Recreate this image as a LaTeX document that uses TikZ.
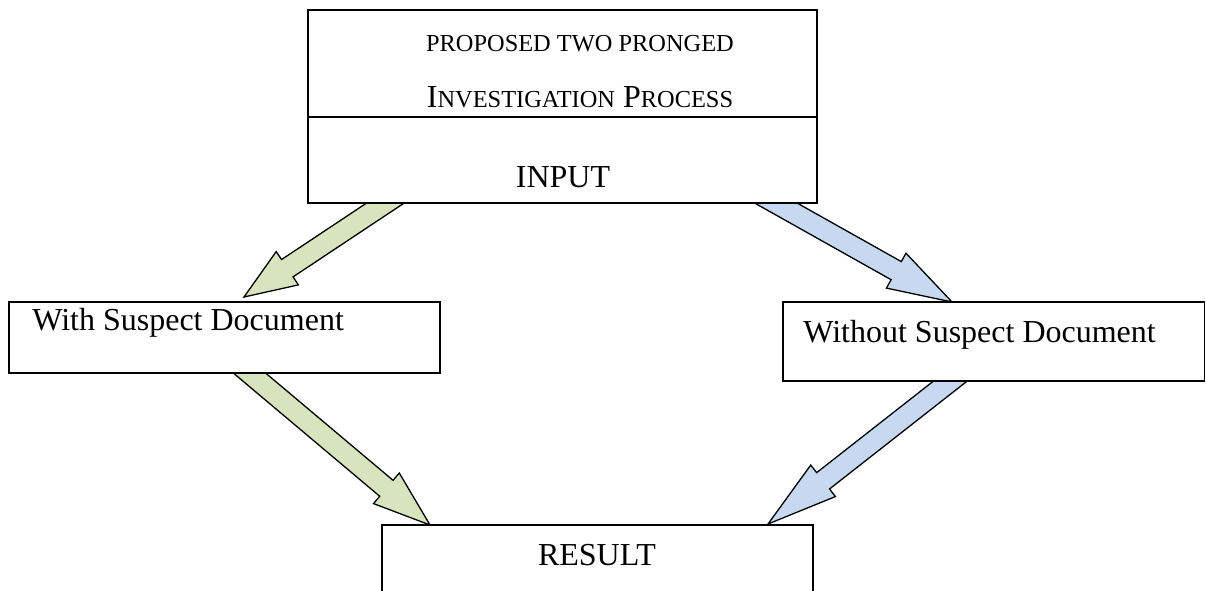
\documentclass[tikz,border=0pt]{standalone}
\usepackage{fontspec}
\setmainfont{Liberation Serif}
\usetikzlibrary{calc,fit}
\definecolor{agreen}{HTML}{D7E4BD}
\definecolor{ablue}{HTML}{C6D9F1}
\newcommand\sml[1]{{\fontsize{12.2pt}{14pt}\selectfont #1}}
\tikzset{
  box/.style={draw, line width=0.8pt, fill=white, inner sep=0pt},
  fat/.style={draw, line width=0.65pt, line join=miter},
  lbl/.style={inner sep=0pt, font=\fontsize{16pt}{19pt}\selectfont},
}
\newcommand\fatarrow[4]{%
  \coordinate (hb) at ($(#2)!#4!(#1)$);
  \draw[fat, fill=#3]
    ($(#1)!5.2pt!90:(#2)$) -- ($(hb)!5.2pt!90:(#2)$) -- ($(hb)!10pt!90:(#2)$)
    -- (#2) -- ($(hb)!10pt!-90:(#2)$) -- ($(hb)!5.2pt!-90:(#2)$)
    -- ($(#1)!5.2pt!-90:(#2)$) -- cycle;
}
\begin{document}
\begin{tikzpicture}[x=0.5pt, y=-0.5pt]
\clip (0,0) rectangle (1206,590);
\fill[white] (0,0) rectangle (1206,590);
% arrow end points
\coordinate (g1s) at (402,192);
\coordinate (g1e) at (244,297);
\coordinate (b1s) at (758,193);
\coordinate (b1e) at (952,302);
\coordinate (g2s) at (234,360);
\coordinate (g2e) at (430,525);
\coordinate (b2s) at (967,368);
\coordinate (b2e) at (768,524);
\fatarrow{g1s}{g1e}{agreen}{26pt}
\fatarrow{b1s}{b1e}{ablue}{32pt}
\fatarrow{g2s}{g2e}{agreen}{28.5pt}
\fatarrow{b2s}{b2e}{ablue}{35pt}
% boxes
\node[box, fit={(308,10) (817,203)}] (top) {};
\draw[line width=0.8pt] (top.west |- 0,117) -- (top.east |- 0,117);
\node[box, fit={(9,302) (440,373)}] (with) {};
\node[box, fit={(783,302) (1204.5,381)}] (without) {};
\node[box, fit={(382,525) (813,620)}] (result) {};
% texts
\node[lbl, anchor=base] (t1) at (580,51) {\sml{PROPOSED TWO PRONGED}};
\node[lbl, anchor=base] (t2) at (580,107) {I\sml{NVESTIGATION} P\sml{ROCESS}};
\node[lbl, anchor=base] (tin) at (563,187) {INPUT};
\node[lbl, anchor=base west] (twith) at (32,330) {With Suspect Document};
\node[lbl, anchor=base west] (twithout) at (803,342) {Without Suspect Document};
\node[lbl, anchor=base] (tres) at (597,565) {RESULT};
\end{tikzpicture}
\end{document}
